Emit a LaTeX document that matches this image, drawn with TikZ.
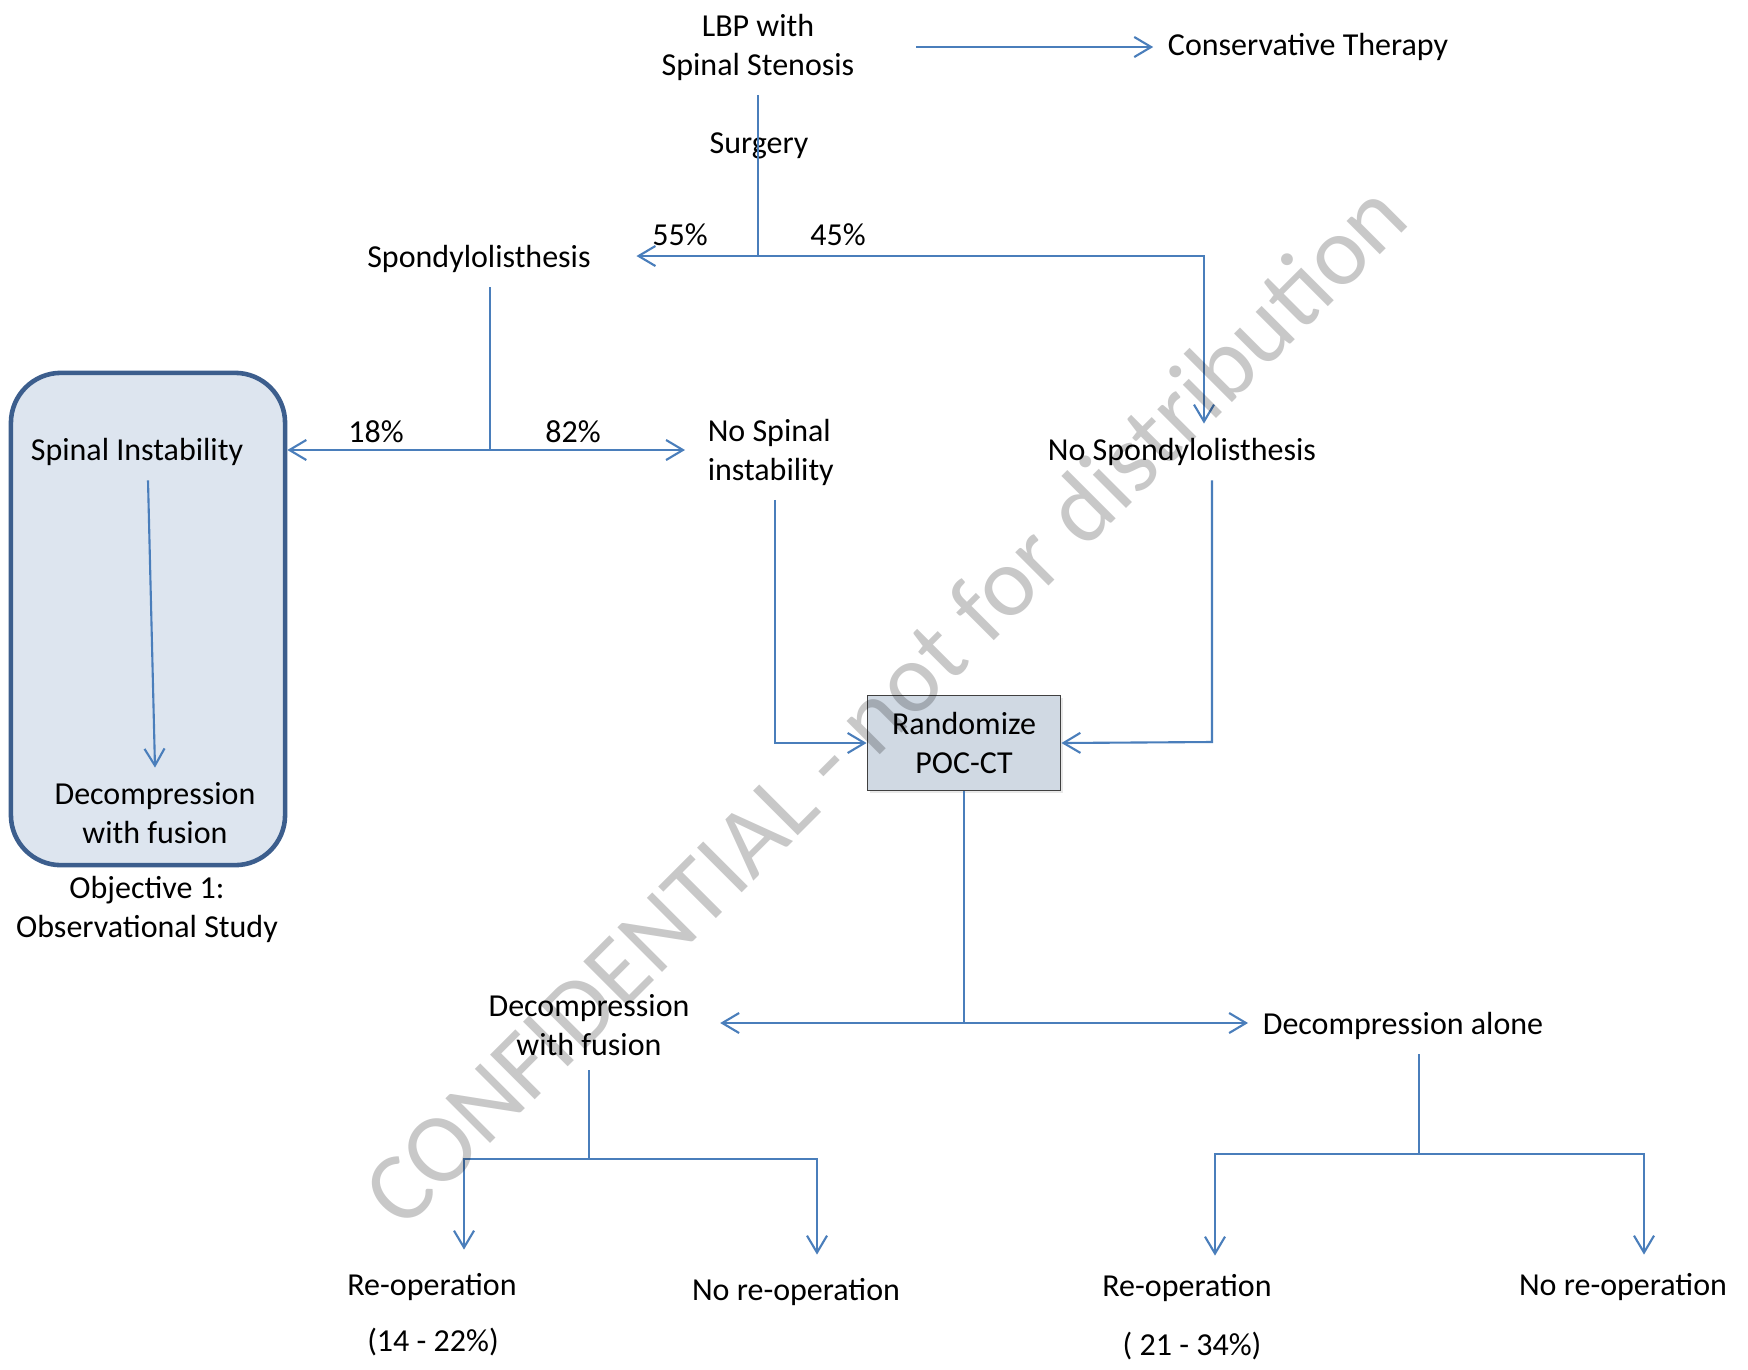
\documentclass[tikz,border=0pt]{standalone}
\usepackage{fontspec}
\setmainfont{Carlito}
\usetikzlibrary{arrows.meta,positioning,shadows}
\definecolor{lineblue}{RGB}{74,126,187}
\definecolor{objfill}{RGB}{221,229,239}
\definecolor{objedge}{RGB}{60,94,141}
\definecolor{randfill}{RGB}{208,217,227}
\definecolor{stampgray}{RGB}{200,200,200}
\tikzset{
  link/.style={line width=0.6pt, lineblue},
  flow/.style={link, -{Straight Barb[length=4.8pt,width=5.7pt]}},
  txtfont/.style={font=\fontsize{9.1}{11.1}\selectfont, align=center, inner sep=4pt},
  txt/.style={txtfont, yshift=-0.2mm},
  randbox/.style={txtfont, draw=black!75, line width=0.5pt, fill=randfill, minimum width=1.93cm, minimum height=0.95cm,
    drop shadow={opacity=0.18, shadow xshift=0.8pt, shadow yshift=-0.8pt}},
  objbox/.style={draw=objedge, line width=1.3pt, fill=objfill, rounded corners=0.5cm, minimum width=2.74cm, minimum height=4.92cm},
  stamp/.style={font=\fontsize{28}{28}\selectfont, text=stampgray, rotate=45, inner sep=0pt}
}

\begin{document}
\begin{tikzpicture}[x=0.01cm,y=-0.01cm]
  \useasboundingbox (0,0) rectangle (1748,1369);
  \node[objbox] (obj) at (148,619) {};
  \node[randbox] (rand) at (964,743) {Randomize\\POC-CT};

  \node[txt] (lbp) at (758,45) {LBP with\\Spinal Stenosis};
  \node[txt] (cons) at (1308,45) {Conservative Therapy};
  \node[txt] (surg) at (759,144) {Surgery};
  \node[txt] (spond) at (479,257) {Spondylolisthesis};
  \node[txt] (p55) at (680,233) {55\%};
  \node[txt] (p45) at (838,233) {45\%};
  \node[txt] (nospondy) at (1182,450) {No Spondylolisthesis};
  \node[txt] (p18) at (376,430) {18\%};
  \node[txt] (p82) at (573,430) {82\%};
  \node[txt, align=left, anchor=west] (nospinal) at (693,450) {No Spinal\\instability};
  \node[txt] (spinst) at (137,450) {Spinal Instability};
  \node[txt] (decfus1) at (155,811) {Decompression\\with fusion};
  \node[txt] (obj1) at (147,907) {Objective 1:\\Observational Study};
  \node[txt] (decfus2) at (589,1023) {Decompression\\with fusion};
  \node[txt] (decal) at (1403,1024) {Decompression alone};
  \node[txt] (reop1) at (432,1285) {Re-operation};
  \node[txt] (pct1) at (433,1340) {(14 - 22\%)};
  \node[txt] (noreop1) at (796,1290) {No re-operation};
  \node[txt] (reop2) at (1187,1286) {Re-operation};
  \node[txt] (pct2) at (1192,1344) {( 21 - 34\%)};
  \node[txt] (noreop2) at (1623,1285) {No re-operation};

  \coordinate (s1) at (758,256);
  \coordinate (k45) at (1204,256);
  \coordinate (s2) at (490,450);
  \coordinate (kr) at (1212,742);
  \coordinate (s3) at (964,1023);
  \coordinate (jl) at (589,1159);
  \coordinate (al) at (464,1159);
  \coordinate (ar) at (817,1159);
  \coordinate (jr) at (1419,1154);
  \coordinate (bl) at (1215,1154);
  \coordinate (br) at (1644,1154);

  \draw[flow] ([xshift=4.7mm]lbp.east) -- (cons.west |- lbp.east);
  \draw[link] (lbp) -- (s1);
  \draw[flow] (s1) -- ([xshift=3.1mm]s1 -| spond.east);
  \draw[flow] (s1) -- (k45) -- (k45 |- nospondy.north);
  \draw[link] (spond.south -| s2) -- (s2);
  \draw[flow] (s2) -- (s2 -| obj.east);
  \draw[flow] (s2) -- ([xshift=-0.8mm]s2 -| nospinal.west);
  \draw[flow] ([xshift=1.1mm]spinst.south) -- (decfus1.north);
  \draw[flow] ([xshift=0.4mm]nospinal.south) |- (rand.west);
  \draw[flow] (nospondy.south -| kr) -- (kr) -- (rand.east);
  \draw[link] (rand) -- (s3);
  \draw[flow] (s3) -- ([xshift=1.6mm]s3 -| decfus2.east);
  \draw[flow] (s3) -- (s3 -| decal.west);
  \draw[link] (decfus2) -- (jl);
  \draw[flow] (jl) -- (al) -- ([yshift=0.9mm]al |- reop1.north);
  \draw[flow] (jl) -- (ar) -- ([yshift=0.9mm]ar |- noreop1.north);
  \draw[link] (decal.south -| jr) -- (jr);
  \draw[flow] (jr) -- (bl) -- ([yshift=0.4mm]bl |- reop2.north);
  \draw[flow] (jr) -- (br) -- ([yshift=0.4mm]br |- noreop2.north);

  \begin{scope}[blend mode=multiply]
    \node[stamp] (conf) at (884,703) {CONFIDENTIAL - not for distribution};
  \end{scope}
\end{tikzpicture}
\end{document}
